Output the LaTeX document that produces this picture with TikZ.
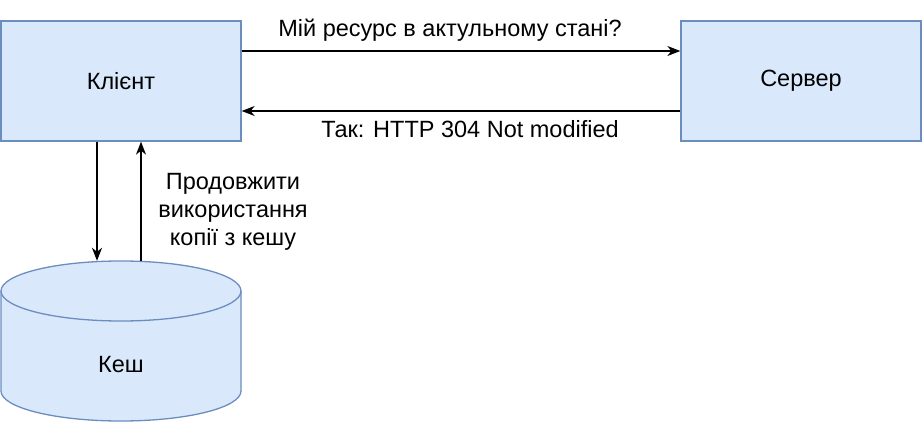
\documentclass[tikz,border=0pt]{standalone}
\usepackage{fontspec}
\setmainfont{Liberation Sans}
\usetikzlibrary{arrows.meta}
\definecolor{boxfill}{HTML}{DAE8FC}
\definecolor{boxline}{HTML}{6C8EBF}
\begin{document}
\begin{tikzpicture}[x=1pt,y=-1pt,
  box/.style={draw=boxline,fill=boxfill,line width=1.3pt,minimum width=240pt,minimum height=120pt,inner sep=0pt,font=\fontsize{23.5}{28}\selectfont},
  conn/.style={-{Stealth[length=13pt,width=10pt,inset=4pt]},line width=1.4pt},
  lbl/.style={font=\fontsize{23.5}{28}\selectfont,align=center,inner sep=0pt}]
\useasboundingbox (0,0) rectangle (922,422);
\node[box] (client) at (121,81) {Клієнт};
\node[box] (server) at (801,81) {Сервер};
% cylinder
\path[draw=boxline,fill=boxfill,line width=1.3pt] (1,291) -- (1,391) arc[start angle=180,end angle=0,x radius=120,y radius=30] -- (241,291) arc[start angle=0,end angle=-180,x radius=120,y radius=30] -- cycle;
\draw[boxline,line width=1.3pt] (1,291) arc[start angle=180,end angle=0,x radius=120,y radius=30];
\node[minimum width=240pt,minimum height=160pt,inner sep=0pt] (cache) at (121,341) {};
\node[lbl] (cachelabel) at (121,365) {Кеш};
% connectors
\draw[conn] ([yshift=30pt]client.east) -- ([yshift=30pt]server.west);
\draw[conn] ([yshift=-30pt]server.west) -- ([yshift=-30pt]client.east);
\draw[conn] ([xshift=-24pt]client.south) -- ([xshift=-24pt]cache.north);
\draw[conn] ([xshift=20pt]cache.north) -- ([xshift=20pt]client.south);
% labels
\node[lbl] (q) at (450,30) {Мій ресурс в актульному стані?};
\node[lbl] (a) at (470,129) {Так: HTTP 304 Not modified};
\node[lbl] (c) at (233,212) {Продовжити\\використання\\копії з кешу};
\end{tikzpicture}
\end{document}
